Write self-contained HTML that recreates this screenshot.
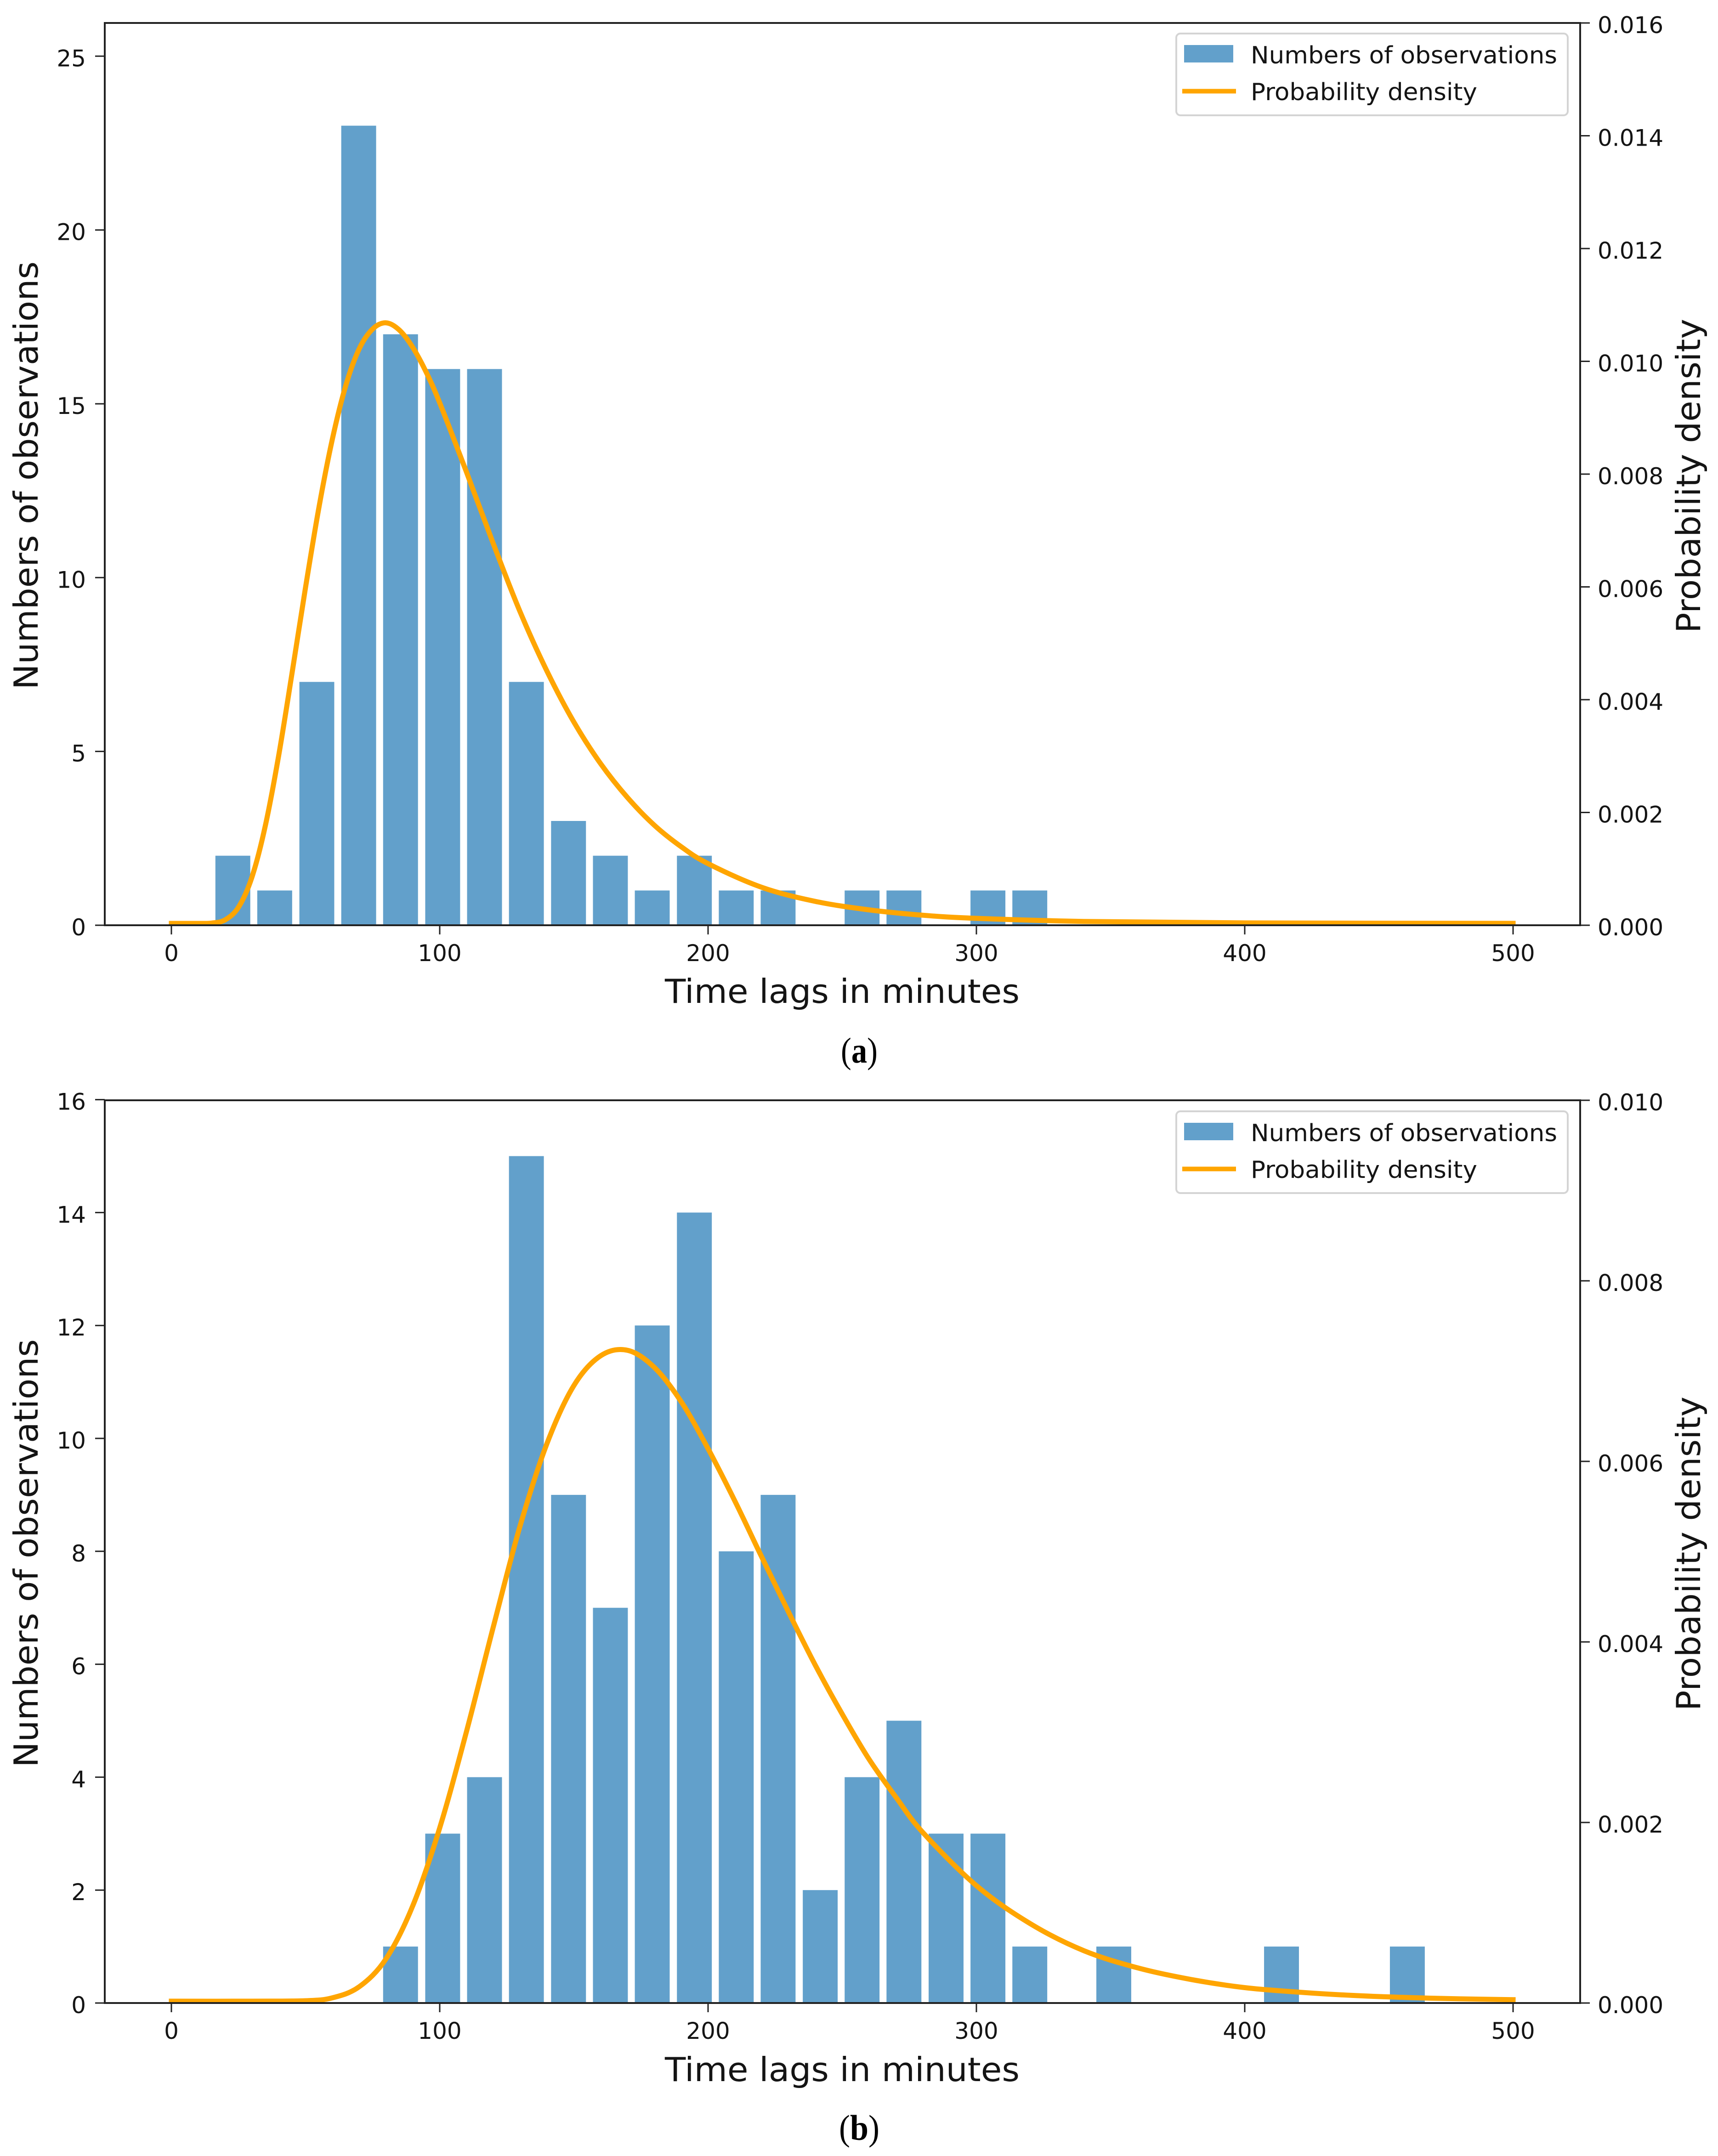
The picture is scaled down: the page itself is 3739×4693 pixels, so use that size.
<!DOCTYPE html>
<html lang="en">
<head>
<meta charset="utf-8">
<title>Time lag histograms with probability density</title>
<style>
html,body{margin:0;padding:0;background:#fff;}
svg{display:block;}
text{font-family:"DejaVu Sans","Liberation Sans",sans-serif;fill:#141414;}
.cap{font-family:"Liberation Serif",serif;font-size:78px;fill:#000;}
</style>
</head>
<body>
<svg id="figure" xmlns="http://www.w3.org/2000/svg" width="3739" height="4693" viewBox="0 0 3739 4693">
<rect x="0" y="0" width="3739" height="4693" fill="#ffffff"/>

<g id="panel-a">
  <g id="bars-a"></g>
  <g id="curve-a"></g>
  <g id="ticks-a"></g>
  <line x1="228" y1="48" x2="228" y2="2016" stroke="#222" stroke-width="4"/>
  <line x1="3439" y1="48" x2="3439" y2="2016" stroke="#222" stroke-width="4"/>
  <line x1="226" y1="50" x2="3441" y2="50" stroke="#222" stroke-width="4"/>
  <line x1="226" y1="2014" x2="3441" y2="2014" stroke="#222" stroke-width="4"/>
  <text x="1833" y="2183" font-size="72" text-anchor="middle" textLength="772" lengthAdjust="spacingAndGlyphs">Time lags in minutes</text>
  <text transform="translate(82,1035) rotate(-90)" font-size="72" text-anchor="middle" textLength="932" lengthAdjust="spacingAndGlyphs">Numbers of observations</text>
  <text transform="translate(3700,1036) rotate(-90)" font-size="72" text-anchor="middle" textLength="684" lengthAdjust="spacingAndGlyphs">Probability density</text>
  <g>
    <rect x="2560" y="73" width="852" height="178" rx="9" ry="9" fill="#ffffff" fill-opacity="0.8" stroke="#d4d4d4" stroke-width="4"/>
    <rect x="2577" y="98" width="107" height="38" fill="#62a0cb"/>
    <line x1="2573" y1="198.5" x2="2690" y2="198.5" stroke="#ffa500" stroke-width="10"/>
    <text x="2722" y="138" font-size="52" textLength="667" lengthAdjust="spacingAndGlyphs">Numbers of observations</text>
    <text x="2722" y="218" font-size="52" textLength="493" lengthAdjust="spacingAndGlyphs">Probability density</text>
  </g>
  <text class="cap" x="1870" y="2313" text-anchor="middle" textLength="80" lengthAdjust="spacingAndGlyphs">(<tspan font-weight="bold">a</tspan>)</text>
</g>

<g id="panel-b" transform="translate(0,2346)">
  <g id="bars-b"></g>
  <g id="curve-b"></g>
  <g id="ticks-b"></g>
  <line x1="228" y1="47" x2="228" y2="2016" stroke="#222" stroke-width="4"/>
  <line x1="3439" y1="47" x2="3439" y2="2016" stroke="#222" stroke-width="4"/>
  <line x1="226" y1="49" x2="3441" y2="49" stroke="#222" stroke-width="4"/>
  <line x1="226" y1="2014" x2="3441" y2="2014" stroke="#222" stroke-width="4"/>
  <text x="1833" y="2184" font-size="72" text-anchor="middle" textLength="772" lengthAdjust="spacingAndGlyphs">Time lags in minutes</text>
  <text transform="translate(82,1035) rotate(-90)" font-size="72" text-anchor="middle" textLength="932" lengthAdjust="spacingAndGlyphs">Numbers of observations</text>
  <text transform="translate(3700,1036) rotate(-90)" font-size="72" text-anchor="middle" textLength="684" lengthAdjust="spacingAndGlyphs">Probability density</text>
  <g>
    <rect x="2560" y="73" width="852" height="178" rx="9" ry="9" fill="#ffffff" fill-opacity="0.8" stroke="#d4d4d4" stroke-width="4"/>
    <rect x="2577" y="98" width="107" height="38" fill="#62a0cb"/>
    <line x1="2573" y1="198.5" x2="2690" y2="198.5" stroke="#ffa500" stroke-width="10"/>
    <text x="2722" y="138" font-size="52" textLength="667" lengthAdjust="spacingAndGlyphs">Numbers of observations</text>
    <text x="2722" y="218" font-size="52" textLength="493" lengthAdjust="spacingAndGlyphs">Probability density</text>
  </g>
  <text class="cap" x="1870" y="2312" text-anchor="middle" textLength="88" lengthAdjust="spacingAndGlyphs">(<tspan font-weight="bold">b</tspan>)</text>
</g>
</svg>

<script>
const binCenters = [22.9,38.5,54.2,69.8,85.4,101.1,116.7,132.3,148,163.6,179.2,194.9,210.5,226.1,241.8,257.4,273,288.7,304.3,319.9,335.6,351.2,366.8,382.5,398.1,413.7,429.4,445,460.6];
const countsA = [2,1,7,23,17,16,16,7,3,2,1,2,1,1,0,1,1,0,1,1,0,0,0,0,0,0,0,0,0];
const countsB = [0,0,0,0,1,3,4,15,9,7,12,14,8,9,2,4,5,3,3,1,0,1,0,0,0,1,0,0,1];

const curveAX = [0,10,15,20,25,30,35,40,45,50,55,60,65,70,75,80,85,90,95,100,110,120,130,140,150,160,170,180,190,200,220,240,260,280,300,340,400,500];
const curveAY = [0,0,0.000006,0.000062,0.000287,0.000818,0.00173,0.00298,0.00445,0.00596,0.00738,0.00859,0.00954,0.01019,0.01054,0.01065,0.01052,0.01021,0.00977,0.00923,0.0080,0.00673,0.00552,0.00447,0.00357,0.00283,0.00223,0.00174,0.00136,0.00106,0.00064,0.00039,0.00024,0.000145,0.00009,0.000035,0.000009,0.000001];
const curveBX = [0,30,50,60,70,80,90,100,110,120,130,140,150,160,170,180,190,200,210,220,230,240,250,260,270,280,300,320,340,360,380,400,420,440,460,480,500];
const curveBY = [0,0,0.000005,0.000037,0.00016,0.00047,0.00106,0.00192,0.00299,0.00415,0.00527,0.00618,0.00682,0.00715,0.00721,0.00702,0.00664,0.00612,0.00554,0.00492,0.00431,0.00372,0.00318,0.00268,0.00226,0.00187,0.00128,0.00086,0.00056,0.00037,0.00024,0.00015,0.0001,0.000064,0.000041,0.000026,0.000017];

const xTickLabels = ["0","100","200","300","400","500"];
const leftTickLabelsA = ["0","5","10","15","20","25"];
const rightTickLabelsA = ["0.000","0.002","0.004","0.006","0.008","0.010","0.012","0.014","0.016"];
const leftTickLabelsB = ["0","2","4","6","8","10","12","14","16"];
const rightTickLabelsB = ["0.000","0.002","0.004","0.006","0.008","0.010"];

const SVGNS = "http://www.w3.org/2000/svg";
const BASELINE = 2014;

function xScale(v) { return 373 + 5.84 * v; }
function countScaleA(v) { return BASELINE - 75.67 * v; }
function densityScaleA(v) { return BASELINE - 4 - v * 122750; }
function densityTickA(v) { return BASELINE - v * 122750; }
function countScaleB(v) { return BASELINE - 122.9 * v; }
function densityScaleB(v) { return BASELINE - 4 - v * 196500; }
function densityTickB(v) { return BASELINE - v * 196500; }

function smoothPath(pts) {
  let d = "M" + pts[0][0].toFixed(1) + " " + pts[0][1].toFixed(1);
  for (let i = 0; i < pts.length - 1; i++) {
    const p0 = pts[Math.max(i - 1, 0)];
    const p1 = pts[i];
    const p2 = pts[i + 1];
    const p3 = pts[Math.min(i + 2, pts.length - 1)];
    const c1x = p1[0] + (p2[0] - p0[0]) / 6;
    const c1y = p1[1] + (p2[1] - p0[1]) / 6;
    const c2x = p2[0] - (p3[0] - p1[0]) / 6;
    const c2y = p2[1] - (p3[1] - p1[1]) / 6;
    d += "C" + c1x.toFixed(1) + " " + c1y.toFixed(1) + " " + c2x.toFixed(1) + " " + c2y.toFixed(1) + " " + p2[0].toFixed(1) + " " + p2[1].toFixed(1);
  }
  return d;
}

function drawBars(groupId, counts, yFn, suffix) {
  const g = document.getElementById(groupId);
  binCenters.forEach(function (c, i) {
    if (!counts[i]) return;
    const left = xScale(c - 6.5);
    const right = xScale(c + 6.5);
    const r = document.createElementNS(SVGNS, "rect");
    
    
    r.setAttribute("x", left);
    r.setAttribute("y", yFn(counts[i]));
    r.setAttribute("width", right - left);
    r.setAttribute("height", BASELINE - yFn(counts[i]));
    r.setAttribute("fill", "#62a0cb");
    g.appendChild(r);
  });
}

function drawCurve(groupId, xs, ys, yFn, suffix) {
  const g = document.getElementById(groupId);
  const pts = xs.map(function (x, i) { return [xScale(x), yFn(ys[i])]; });
  const p = document.createElementNS(SVGNS, "path");
  
  
  p.setAttribute("d", smoothPath(pts));
  p.setAttribute("fill", "none");
  p.setAttribute("stroke", "#ffa500");
  p.setAttribute("stroke-width", "11");
  p.setAttribute("stroke-linecap", "square");
  p.setAttribute("stroke-linejoin", "round");
  g.appendChild(p);
}

function addTickMark(g, x1, y1, x2, y2, name) {
  const l = document.createElementNS(SVGNS, "line");
  
  
  l.setAttribute("x1", x1);
  l.setAttribute("y1", y1);
  l.setAttribute("x2", x2);
  l.setAttribute("y2", y2);
  l.setAttribute("stroke", "#222");
  l.setAttribute("stroke-width", "3");
  g.appendChild(l);
}

function addTickLabel(g, x, y, anchor, str, name) {
  const t = document.createElementNS(SVGNS, "text");
  
  
  t.setAttribute("x", x);
  t.setAttribute("y", y);
  t.setAttribute("font-size", "50");
  t.setAttribute("text-anchor", anchor);
  t.textContent = str;
  g.appendChild(t);
}

function drawTicks(groupId, leftLabels, rightLabels, leftFn, rightFn, suffix) {
  const g = document.getElementById(groupId);
  xTickLabels.forEach(function (s) {
    const x = xScale(parseFloat(s));
    addTickMark(g, x, BASELINE, x, BASELINE + 20, 'x-tick-' + suffix + '-' + s);
    addTickLabel(g, x, BASELINE + 78, "middle", s, 'x-tick-label-' + suffix + '-' + s);
  });
  leftLabels.forEach(function (s) {
    const y = leftFn(parseFloat(s));
    addTickMark(g, 207, y, 228, y, 'left-tick-' + suffix + '-' + s);
    addTickLabel(g, 187, y + 22, "end", s, 'left-tick-label-' + suffix + '-' + s);
  });
  rightLabels.forEach(function (s) {
    const y = rightFn(parseFloat(s));
    addTickMark(g, 3439, y, 3460, y, 'right-tick-' + suffix + '-' + s);
    addTickLabel(g, 3477, y + 22, "start", s, 'right-tick-label-' + suffix + '-' + s);
  });
}

drawBars("bars-a", countsA, countScaleA, "a");
drawCurve("curve-a", curveAX, curveAY, densityScaleA, "a");
drawTicks("ticks-a", leftTickLabelsA, rightTickLabelsA, countScaleA, densityTickA, "a");

drawBars("bars-b", countsB, countScaleB, "b");
drawCurve("curve-b", curveBX, curveBY, densityScaleB, "b");
drawTicks("ticks-b", leftTickLabelsB, rightTickLabelsB, countScaleB, densityTickB, "b");
</script>
</body>
</html>
